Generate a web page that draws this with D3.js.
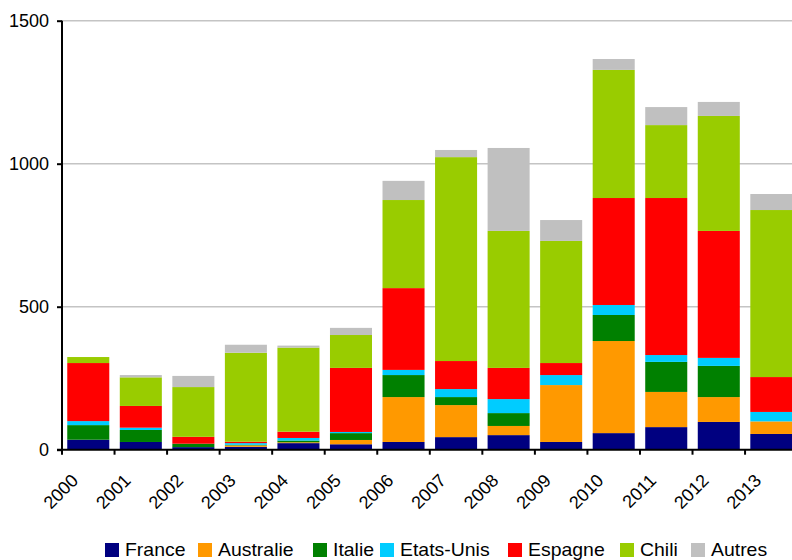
<!DOCTYPE html>
<html>
<head>
<meta charset="utf-8">
<script src="https://cdn.jsdelivr.net/npm/d3@7"></script>
<style>
  html, body { margin: 0; padding: 0; background: #fff; }
  svg { display: block; font-family: Arial, "Liberation Sans", sans-serif; }
</style>
</head>
<body>
<svg id="chart" width="792" height="560"></svg>
<script>
// Years on the horizontal axis
const years = ["2000","2001","2002","2003","2004","2005","2006","2007","2008","2009","2010","2011","2012","2013"];

// Series, stacked bottom to top
const seriesNames = ["France","Australie","Italie","Etats-Unis","Espagne","Chili","Autres"];
const france    = [35, 27,  9, 10, 23, 19,  27,  44,  51,  27,  58,  79,  97,  55];
const australie = [ 0,  0,  0,  5,  3, 15, 157, 112,  32, 199, 322, 123,  87,  44];
const italie    = [51, 42, 12,  2,  6, 24,  77,  28,  45,   0,  91, 105, 109,   0];
const etatsUnis = [14,  8,  0,  6,  9,  4,  18,  28,  49,  35,  35,  24,  28,  33];
const espagne   = [203, 76, 24, 5, 22, 224, 286, 98, 109,  42, 374, 549, 444, 122];
const chili     = [21, 100, 174, 311, 294, 115, 308, 713, 479, 427, 448, 255, 402, 584];
const autres    = [ 0,  8, 39, 28,  7, 25,  67,  25, 290,  73,  38,  63,  49,  56];
const seriesValues = [france, australie, italie, etatsUnis, espagne, chili, autres];
const colors = ["#000080","#FF9900","#008000","#00CCFF","#FF0000","#99CC00","#C0C0C0"];

// Y axis tick values
const yTicks = [0, 500, 1000, 1500];

(function draw() {
  const rows = years.map((yr, i) => {
    const r = { year: yr };
    seriesNames.forEach((s, k) => { r[s] = seriesValues[k][i]; });
    return r;
  });

  const svg = d3.select("#chart");
  const plotLeft = 62, plotTop = 20.7, plotBottom = 449.7, plotRight = 797.6;

  const x = d3.scaleBand().domain(years).range([plotLeft, plotRight]).paddingInner(0.2).paddingOuter(0.1);
  const y = d3.scaleLinear().domain([0, 1500]).range([plotBottom, plotTop]);
  const color = d3.scaleOrdinal().domain(seriesNames).range(colors);

  // Horizontal gridlines
  svg.append("g")
    .selectAll("line")
    .data(yTicks.filter(d => d > 0))
    .join("line")
    .attr("x1", plotLeft).attr("x2", 792)
    .attr("y1", d => y(d)).attr("y2", d => y(d))
    .attr("stroke", "#c4c4c4").attr("stroke-width", 1.6);

  // Stacked bars
  const stacked = d3.stack().keys(seriesNames)(rows);
  svg.append("g")
    .selectAll("g")
    .data(stacked)
    .join("g")
    .attr("fill", d => color(d.key))
    .selectAll("rect")
    .data(d => d)
    .join("rect")
    .attr("x", d => x(d.data.year))
    .attr("width", x.bandwidth())
    .attr("y", d => y(d[1]))
    .attr("height", d => Math.max(0, y(d[0]) - y(d[1])));

  // Y axis
  const yAxis = svg.append("g")
    .attr("transform", `translate(${plotLeft},0)`)
    .call(d3.axisLeft(y).tickValues(yTicks).tickSize(5).tickPadding(8).tickFormat(d3.format("d")));
  yAxis.select(".domain").attr("stroke", "#000").attr("stroke-width", 2).attr("d", `M0,${plotTop}V${plotBottom}`);
  yAxis.selectAll(".tick line").attr("stroke", "#000").attr("stroke-width", 2);
  yAxis.selectAll("text").attr("font-size", 18).attr("fill", "#000")
    .attr("font-family", "Arial, 'Liberation Sans', sans-serif");

  // X axis: ticks at category boundaries
  const xg = svg.append("g");
  xg.append("line")
    .attr("x1", plotLeft - 5).attr("x2", 792)
    .attr("y1", plotBottom).attr("y2", plotBottom)
    .attr("stroke", "#000").attr("stroke-width", 2);
  const gap = x.step() - x.bandwidth();
  const boundaries = years.map(yr => x(yr) - gap / 2);
  xg.selectAll("line.tk")
    .data(boundaries)
    .join("line")
    .attr("class", "tk")
    .attr("x1", d => d).attr("x2", d => d)
    .attr("y1", plotBottom).attr("y2", plotBottom + 5)
    .attr("stroke", "#000").attr("stroke-width", 2);
  xg.selectAll("text")
    .data(years)
    .join("text")
    .attr("transform", d => `translate(${x(d) + x.bandwidth() / 2 - 9},${plotBottom + 32}) rotate(-45)`)
    .attr("text-anchor", "end")
    .attr("font-size", 18)
    .attr("fill", "#000")
    .text(d => d);

  // Legend
  const legendX = [105, 198, 313, 380, 508, 620, 691];
  const items = svg.append("g").selectAll("g")
    .data(seriesNames)
    .join("g")
    .attr("transform", (d, i) => `translate(${legendX[i]},543)`);
  items.append("rect").attr("width", 14).attr("height", 14).attr("fill", d => color(d));
  items.append("text")
    .attr("transform", "translate(20,13) scale(1.08,1)")
    .attr("font-size", 18).attr("fill", "#000").text(d => d);
})();
</script>
</body>
</html>
